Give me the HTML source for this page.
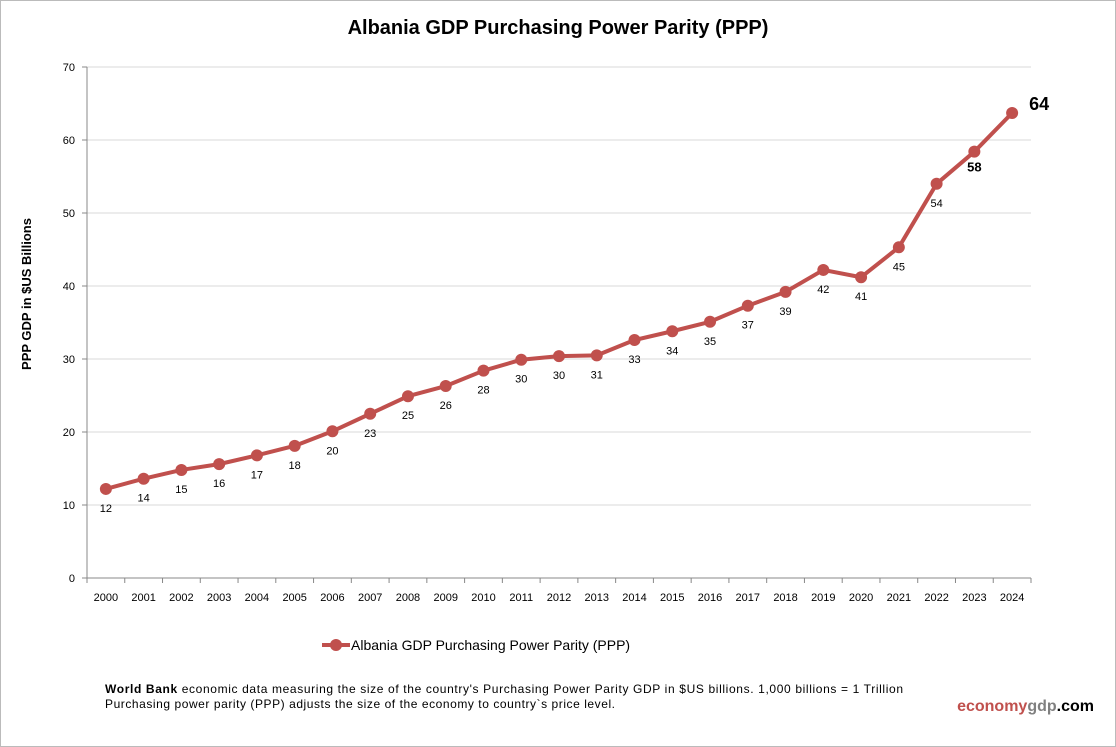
<!DOCTYPE html>
<html><head><meta charset="utf-8">
<style>
body{margin:0;background:#fff;font-family:"Liberation Sans",sans-serif;}
#wrap{position:relative;width:1116px;height:747px;overflow:hidden;background:#fff;}
#frame{position:absolute;left:0;top:0;width:1114px;height:745px;border:1px solid #bbb;}
</style></head>
<body>
<div id="wrap">
<div id="frame"></div>
<svg id="chart" width="1116" height="747" style="position:absolute;left:0;top:0">
<text x="558" y="34" text-anchor="middle" font-size="20" font-weight="bold" fill="#000">Albania GDP Purchasing Power Parity (PPP)</text>
<text transform="translate(31,294) rotate(-90)" text-anchor="middle" font-size="13" font-weight="bold">PPP GDP in $US Billions</text>
<g id="grid"></g><g id="axes"></g><g id="series"></g>
<g>
<line x1="322" y1="645" x2="350" y2="645" stroke="#c0504d" stroke-width="4"/>
<circle cx="336" cy="645" r="6" fill="#c0504d"/>
<text x="351" y="650" font-size="14" fill="#000">Albania GDP Purchasing Power Parity (PPP)</text>
</g>
<text x="105" y="693" font-size="12" textLength="798" lengthAdjust="spacing"><tspan font-weight="bold">World Bank</tspan> economic data  measuring the size of the country's Purchasing Power Parity GDP in $US billions. 1,000 billions = 1 Trillion</text>
<text x="105" y="708" font-size="12" textLength="510" lengthAdjust="spacing">Purchasing power parity (PPP) adjusts the size of the economy to country`s price level.</text>
<text x="1094" y="711" text-anchor="end" font-size="16" font-weight="bold"><tspan fill="#c0504d">economy</tspan><tspan fill="#808080">gdp</tspan><tspan fill="#000">.com</tspan></text>
</svg>
</div>
<script>
const years=["2000","2001","2002","2003","2004","2005","2006","2007","2008","2009","2010","2011","2012","2013","2014","2015","2016","2017","2018","2019","2020","2021","2022","2023","2024"];
const values=[12.2,13.6,14.8,15.6,16.8,18.1,20.1,22.5,24.9,26.3,28.4,29.9,30.4,30.5,32.6,33.8,35.1,37.3,39.2,42.2,41.2,45.3,54.0,58.4,63.7];
const yTicks=[0,10,20,30,40,50,60,70];
const NS="http://www.w3.org/2000/svg";
const L=87,R=1031,T=67,B=578,YMAX=70;
const bw=(R-L)/years.length;
const xs=i=>L+bw*(i+0.5);
const ys=v=>B-(v/YMAX)*(B-T);
function mk(tag,attrs,parent){const e=document.createElementNS(NS,tag);for(const k in attrs)e.setAttribute(k,attrs[k]);parent.appendChild(e);return e;}
const grid=document.getElementById('grid'),axes=document.getElementById('axes'),ser=document.getElementById('series');
yTicks.forEach(t=>{
 const y=ys(t);
 const g=mk('line',{x1:L,x2:R,y1:y,y2:y,stroke:t===0?'#888':'#d9d9d9','stroke-width':1},grid);
 
 
 const tk=mk('line',{x1:L-5,x2:L,y1:y,y2:y,stroke:'#888'},axes);
 
 
 const tx=mk('text',{x:L-12,y:y+4,'text-anchor':'end','font-size':11},axes);
 tx.textContent=t;
 
 
});
const ya=mk('line',{x1:L,x2:L,y1:T,y2:B,stroke:'#888'},axes);


for(let i=0;i<=years.length;i++){
 const x=L+bw*i;
 const tk=mk('line',{x1:x,x2:x,y1:B,y2:B+5,stroke:'#888'},axes);
 
 
}
years.forEach((yr,i)=>{
 const tx=mk('text',{x:xs(i),y:B+23,'text-anchor':'middle','font-size':11},axes);
 tx.textContent=yr;
 
 
});
const pts=values.map((v,i)=>xs(i)+','+ys(v)).join(' ');
const line=mk('polyline',{points:pts,fill:'none',stroke:'#c0504d','stroke-width':4,'stroke-linejoin':'round'},ser);


values.forEach((v,i)=>{
 const c=mk('circle',{cx:xs(i),cy:ys(v),r:6,fill:'#c0504d'},ser);
 
 
 const last=i===values.length-1, pen=i===values.length-2;
 let a;
 if(last)a={x:xs(i)+17,y:ys(v)-3,'font-size':18,'font-weight':'bold'};
 else if(pen)a={x:xs(i),y:ys(v)+20,'text-anchor':'middle','font-size':13,'font-weight':'bold'};
 else a={x:xs(i),y:ys(v)+23,'text-anchor':'middle','font-size':11};
 const t=mk('text',a,ser);
 t.textContent=Math.round(v);
 
 
});
</script>
</body></html>
